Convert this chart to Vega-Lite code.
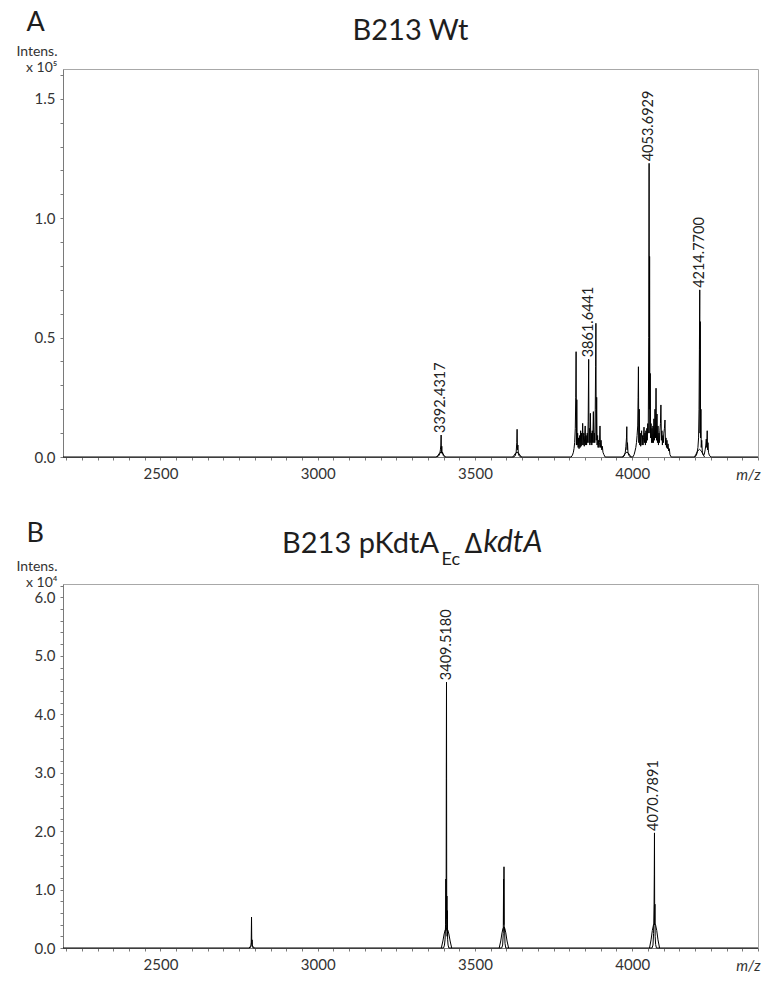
{
  "$schema": "https://vega.github.io/schema/vega-lite/v6.json",
  "background": "white",
  "padding": {"left": 15, "top": 8, "right": 5, "bottom": 5},
  "spacing": 36,
  "config": {
    "font": "Lato",
    "view": {"stroke": "#a8a8a8", "strokeWidth": 1},
    "axis": {"labelFont": "Lato", "labelFontSize": 15, "labelColor": "#333333", "domainColor": "#7a7a7a", "tickColor": "#7a7a7a", "grid": false, "titleFont": "Lato", "titleFontWeight": "normal", "titleColor": "#333333", "titleFontSize": 14, "labelOverlap": false, "labelFlush": false, "labelBound": false},
    "title": {"font": "Lato", "fontWeight": "normal", "color": "#1e1e1e", "fontSize": 29}
  },
  "datasets": {
    "spec": [
      {"p":"A","t":"s","mz":2190,"v":0},{"p":"A","t":"s","mz":3376,"v":0},{"p":"A","t":"s","mz":3384,"v":0.004},{"p":"A","t":"s","mz":3388,"v":0.012},{"p":"A","t":"s","mz":3390,"v":0.03},{"p":"A","t":"s","mz":3391.5,"v":0.05},{"p":"A","t":"s","mz":3392.4,"v":0.092,"label":"3392.4317"},{"p":"A","t":"s","mz":3393.3,"v":0.02},{"p":"A","t":"s","mz":3394.5,"v":0.045},{"p":"A","t":"s","mz":3395.5,"v":0.015},{"p":"A","t":"s","mz":3397,"v":0.02},{"p":"A","t":"s","mz":3399,"v":0.006},{"p":"A","t":"s","mz":3404,"v":0},
      {"p":"A","t":"s","mz":3622,"v":0},{"p":"A","t":"s","mz":3628,"v":0.005},{"p":"A","t":"s","mz":3631,"v":0.02},{"p":"A","t":"s","mz":3633,"v":0.06},{"p":"A","t":"s","mz":3634,"v":0.116},{"p":"A","t":"s","mz":3635,"v":0.03},{"p":"A","t":"s","mz":3636.5,"v":0.05},{"p":"A","t":"s","mz":3638,"v":0.012},{"p":"A","t":"s","mz":3641,"v":0.004},{"p":"A","t":"s","mz":3646,"v":0},
      {"p":"A","t":"s","mz":3806,"v":0},{"p":"A","t":"s","mz":3810,"v":0.008},{"p":"A","t":"s","mz":3813,"v":0.02},{"p":"A","t":"s","mz":3815,"v":0.035},{"p":"A","t":"s","mz":3817,"v":0.06},{"p":"A","t":"s","mz":3819,"v":0.12},{"p":"A","t":"s","mz":3820.5,"v":0.25},{"p":"A","t":"s","mz":3821.6,"v":0.441},{"p":"A","t":"s","mz":3822.6,"v":0.05},{"p":"A","t":"s","mz":3823.8,"v":0.24},{"p":"A","t":"s","mz":3825,"v":0.05},{"p":"A","t":"s","mz":3826.5,"v":0.1},{"p":"A","t":"s","mz":3828,"v":0.04},{"p":"A","t":"s","mz":3829.5,"v":0.08},{"p":"A","t":"s","mz":3831,"v":0.035},{"p":"A","t":"s","mz":3833,"v":0.09},{"p":"A","t":"s","mz":3834.5,"v":0.04},{"p":"A","t":"s","mz":3836,"v":0.11},{"p":"A","t":"s","mz":3837.5,"v":0.045},{"p":"A","t":"s","mz":3839,"v":0.1},{"p":"A","t":"s","mz":3840.5,"v":0.05},{"p":"A","t":"s","mz":3842.5,"v":0.141},{"p":"A","t":"s","mz":3844,"v":0.05},{"p":"A","t":"s","mz":3846,"v":0.1},{"p":"A","t":"s","mz":3847.5,"v":0.045},{"p":"A","t":"s","mz":3849,"v":0.09},{"p":"A","t":"s","mz":3850.5,"v":0.13},{"p":"A","t":"s","mz":3852,"v":0.05},{"p":"A","t":"s","mz":3853.5,"v":0.09},{"p":"A","t":"s","mz":3855,"v":0.05},{"p":"A","t":"s","mz":3857,"v":0.1},{"p":"A","t":"s","mz":3858.5,"v":0.06},{"p":"A","t":"s","mz":3860,"v":0.15},{"p":"A","t":"s","mz":3861.6,"v":0.409,"label":"3861.6441"},{"p":"A","t":"s","mz":3862.6,"v":0.06},{"p":"A","t":"s","mz":3864,"v":0.12},{"p":"A","t":"s","mz":3865.5,"v":0.05},{"p":"A","t":"s","mz":3867,"v":0.183},{"p":"A","t":"s","mz":3868.5,"v":0.06},{"p":"A","t":"s","mz":3870,"v":0.1},{"p":"A","t":"s","mz":3871.5,"v":0.05},{"p":"A","t":"s","mz":3873,"v":0.11},{"p":"A","t":"s","mz":3874.5,"v":0.06},{"p":"A","t":"s","mz":3876.5,"v":0.19},{"p":"A","t":"s","mz":3878,"v":0.06},{"p":"A","t":"s","mz":3879.5,"v":0.1},{"p":"A","t":"s","mz":3881,"v":0.06},{"p":"A","t":"s","mz":3882.5,"v":0.2},{"p":"A","t":"s","mz":3883.6,"v":0.378},{"p":"A","t":"s","mz":3884.6,"v":0.56},{"p":"A","t":"s","mz":3885.6,"v":0.07},{"p":"A","t":"s","mz":3887,"v":0.25},{"p":"A","t":"s","mz":3888.3,"v":0.05},{"p":"A","t":"s","mz":3890,"v":0.09},{"p":"A","t":"s","mz":3891.5,"v":0.04},{"p":"A","t":"s","mz":3893,"v":0.07},{"p":"A","t":"s","mz":3894.5,"v":0.04},{"p":"A","t":"s","mz":3896,"v":0.06},{"p":"A","t":"s","mz":3897.5,"v":0.13},{"p":"A","t":"s","mz":3899,"v":0.04},{"p":"A","t":"s","mz":3901,"v":0.07},{"p":"A","t":"s","mz":3903,"v":0.03},{"p":"A","t":"s","mz":3905,"v":0.045},{"p":"A","t":"s","mz":3907,"v":0.02},{"p":"A","t":"s","mz":3910,"v":0.01},{"p":"A","t":"s","mz":3914,"v":0},
      {"p":"A","t":"s","mz":3970,"v":0},{"p":"A","t":"s","mz":3975,"v":0.005},{"p":"A","t":"s","mz":3978,"v":0.02},{"p":"A","t":"s","mz":3980,"v":0.045},{"p":"A","t":"s","mz":3981.8,"v":0.08},{"p":"A","t":"s","mz":3982.8,"v":0.127},{"p":"A","t":"s","mz":3983.8,"v":0.03},{"p":"A","t":"s","mz":3985,"v":0.06},{"p":"A","t":"s","mz":3986.5,"v":0.02},{"p":"A","t":"s","mz":3989,"v":0.008},{"p":"A","t":"s","mz":3994,"v":0},
      {"p":"A","t":"s","mz":4002,"v":0},{"p":"A","t":"s","mz":4006,"v":0.01},{"p":"A","t":"s","mz":4009,"v":0.025},{"p":"A","t":"s","mz":4011.5,"v":0.04},{"p":"A","t":"s","mz":4013.5,"v":0.06},{"p":"A","t":"s","mz":4015.5,"v":0.09},{"p":"A","t":"s","mz":4017.5,"v":0.13},{"p":"A","t":"s","mz":4018.8,"v":0.25},{"p":"A","t":"s","mz":4019.8,"v":0.378},{"p":"A","t":"s","mz":4021,"v":0.06},{"p":"A","t":"s","mz":4022.5,"v":0.2},{"p":"A","t":"s","mz":4024,"v":0.05},{"p":"A","t":"s","mz":4025.5,"v":0.1},{"p":"A","t":"s","mz":4027,"v":0.045},{"p":"A","t":"s","mz":4028.5,"v":0.08},{"p":"A","t":"s","mz":4030,"v":0.11},{"p":"A","t":"s","mz":4031.5,"v":0.05},{"p":"A","t":"s","mz":4033,"v":0.09},{"p":"A","t":"s","mz":4034.5,"v":0.05},{"p":"A","t":"s","mz":4036,"v":0.08},{"p":"A","t":"s","mz":4037.5,"v":0.125},{"p":"A","t":"s","mz":4039,"v":0.06},{"p":"A","t":"s","mz":4040.5,"v":0.1},{"p":"A","t":"s","mz":4042,"v":0.05},{"p":"A","t":"s","mz":4043.5,"v":0.11},{"p":"A","t":"s","mz":4045,"v":0.06},{"p":"A","t":"s","mz":4046.5,"v":0.12},{"p":"A","t":"s","mz":4048,"v":0.07},{"p":"A","t":"s","mz":4049.5,"v":0.14},{"p":"A","t":"s","mz":4051,"v":0.1},{"p":"A","t":"s","mz":4052.6,"v":0.5},{"p":"A","t":"s","mz":4053.7,"v":1.23,"label":"4053.6929"},{"p":"A","t":"s","mz":4054.5,"v":0.2},{"p":"A","t":"s","mz":4055.3,"v":0.84},{"p":"A","t":"s","mz":4056.2,"v":0.1},{"p":"A","t":"s","mz":4057.3,"v":0.35},{"p":"A","t":"s","mz":4058.5,"v":0.08},{"p":"A","t":"s","mz":4060,"v":0.14},{"p":"A","t":"s","mz":4061.5,"v":0.06},{"p":"A","t":"s","mz":4063,"v":0.12},{"p":"A","t":"s","mz":4064.5,"v":0.06},{"p":"A","t":"s","mz":4066,"v":0.13},{"p":"A","t":"s","mz":4067.5,"v":0.06},{"p":"A","t":"s","mz":4069,"v":0.16},{"p":"A","t":"s","mz":4070.5,"v":0.07},{"p":"A","t":"s","mz":4072.5,"v":0.2},{"p":"A","t":"s","mz":4074,"v":0.08},{"p":"A","t":"s","mz":4075.8,"v":0.288},{"p":"A","t":"s","mz":4077.2,"v":0.07},{"p":"A","t":"s","mz":4078.8,"v":0.18},{"p":"A","t":"s","mz":4080.3,"v":0.06},{"p":"A","t":"s","mz":4082,"v":0.13},{"p":"A","t":"s","mz":4083.5,"v":0.05},{"p":"A","t":"s","mz":4085,"v":0.1},{"p":"A","t":"s","mz":4086.5,"v":0.06},{"p":"A","t":"s","mz":4088,"v":0.11},{"p":"A","t":"s","mz":4089.8,"v":0.14},{"p":"A","t":"s","mz":4091.3,"v":0.218},{"p":"A","t":"s","mz":4092.8,"v":0.07},{"p":"A","t":"s","mz":4094.5,"v":0.11},{"p":"A","t":"s","mz":4096,"v":0.05},{"p":"A","t":"s","mz":4097.5,"v":0.09},{"p":"A","t":"s","mz":4099,"v":0.06},{"p":"A","t":"s","mz":4100.5,"v":0.1},{"p":"A","t":"s","mz":4102.5,"v":0.12},{"p":"A","t":"s","mz":4104.2,"v":0.155},{"p":"A","t":"s","mz":4105.8,"v":0.05},{"p":"A","t":"s","mz":4107.5,"v":0.08},{"p":"A","t":"s","mz":4109,"v":0.04},{"p":"A","t":"s","mz":4110.5,"v":0.07},{"p":"A","t":"s","mz":4112,"v":0.035},{"p":"A","t":"s","mz":4114,"v":0.055},{"p":"A","t":"s","mz":4116,"v":0.025},{"p":"A","t":"s","mz":4118,"v":0.035},{"p":"A","t":"s","mz":4120,"v":0.01},{"p":"A","t":"s","mz":4124,"v":0},
      {"p":"A","t":"s","mz":4198,"v":0},{"p":"A","t":"s","mz":4203,"v":0.005},{"p":"A","t":"s","mz":4206,"v":0.015},{"p":"A","t":"s","mz":4209,"v":0.04},{"p":"A","t":"s","mz":4211,"v":0.08},{"p":"A","t":"s","mz":4212.5,"v":0.2},{"p":"A","t":"s","mz":4213.7,"v":0.45},{"p":"A","t":"s","mz":4214.8,"v":0.7,"label":"4214.7700"},{"p":"A","t":"s","mz":4215.6,"v":0.1},{"p":"A","t":"s","mz":4216.4,"v":0.567},{"p":"A","t":"s","mz":4217.4,"v":0.08},{"p":"A","t":"s","mz":4218.5,"v":0.2},{"p":"A","t":"s","mz":4219.5,"v":0.04},{"p":"A","t":"s","mz":4221,"v":0.07},{"p":"A","t":"s","mz":4223,"v":0.02},{"p":"A","t":"s","mz":4226,"v":0.008},{"p":"A","t":"s","mz":4229,"v":0.01},{"p":"A","t":"s","mz":4232,"v":0.03},{"p":"A","t":"s","mz":4234,"v":0.05},{"p":"A","t":"s","mz":4235.5,"v":0.075},{"p":"A","t":"s","mz":4237,"v":0.04},{"p":"A","t":"s","mz":4238.5,"v":0.11},{"p":"A","t":"s","mz":4239.5,"v":0.03},{"p":"A","t":"s","mz":4241,"v":0.06},{"p":"A","t":"s","mz":4242.5,"v":0.02},{"p":"A","t":"s","mz":4245,"v":0.008},{"p":"A","t":"s","mz":4250,"v":0},{"p":"A","t":"s","mz":4400,"v":0},
      {"p":"A","t":"e1","mz":3378,"v":0},{"p":"A","t":"e1","mz":3383,"v":0.008},{"p":"A","t":"e1","mz":3387,"v":0.016},{"p":"A","t":"e1","mz":3392,"v":0.02},{"p":"A","t":"e1","mz":3397,"v":0.016},{"p":"A","t":"e1","mz":3401,"v":0.008},{"p":"A","t":"e1","mz":3406,"v":0},
      {"p":"A","t":"e2","mz":3620,"v":0},{"p":"A","t":"e2","mz":3625,"v":0.008},{"p":"A","t":"e2","mz":3629,"v":0.016},{"p":"A","t":"e2","mz":3634,"v":0.02},{"p":"A","t":"e2","mz":3639,"v":0.016},{"p":"A","t":"e2","mz":3643,"v":0.008},{"p":"A","t":"e2","mz":3648,"v":0},
      {"p":"A","t":"e3","mz":3969,"v":0},{"p":"A","t":"e3","mz":3974,"v":0.008},{"p":"A","t":"e3","mz":3978,"v":0.016},{"p":"A","t":"e3","mz":3983,"v":0.02},{"p":"A","t":"e3","mz":3988,"v":0.016},{"p":"A","t":"e3","mz":3992,"v":0.008},{"p":"A","t":"e3","mz":3997,"v":0},
      {"p":"A","t":"e4","mz":4198,"v":0},{"p":"A","t":"e4","mz":4203,"v":0.012},{"p":"A","t":"e4","mz":4208,"v":0.025},{"p":"A","t":"e4","mz":4214,"v":0.032},{"p":"A","t":"e4","mz":4220,"v":0.025},{"p":"A","t":"e4","mz":4225,"v":0.012},{"p":"A","t":"e4","mz":4230,"v":0},
      {"p":"B","t":"s","mz":2190,"v":0},{"p":"B","t":"s","mz":2784,"v":0},{"p":"B","t":"s","mz":2787,"v":0.02},{"p":"B","t":"s","mz":2788.5,"v":0.1},{"p":"B","t":"s","mz":2789.5,"v":0.53},{"p":"B","t":"s","mz":2790.3,"v":0.06},{"p":"B","t":"s","mz":2791.2,"v":0.14},{"p":"B","t":"s","mz":2792.5,"v":0.02},{"p":"B","t":"s","mz":2795,"v":0},
      {"p":"B","t":"s","mz":3400,"v":0},{"p":"B","t":"s","mz":3403,"v":0.05},{"p":"B","t":"s","mz":3405,"v":0.15},{"p":"B","t":"s","mz":3406.5,"v":0.4},{"p":"B","t":"s","mz":3407.5,"v":1.18},{"p":"B","t":"s","mz":3408.2,"v":0.3},{"p":"B","t":"s","mz":3408.8,"v":2.9},{"p":"B","t":"s","mz":3409.5,"v":4.55,"label":"3409.5180"},{"p":"B","t":"s","mz":3410.2,"v":0.5},{"p":"B","t":"s","mz":3410.8,"v":0.89},{"p":"B","t":"s","mz":3411.5,"v":0.2},{"p":"B","t":"s","mz":3412.2,"v":0.64},{"p":"B","t":"s","mz":3413,"v":0.15},{"p":"B","t":"s","mz":3414.5,"v":0.05},{"p":"B","t":"s","mz":3417,"v":0},
      {"p":"B","t":"s","mz":3585,"v":0},{"p":"B","t":"s","mz":3588,"v":0.05},{"p":"B","t":"s","mz":3590,"v":0.25},{"p":"B","t":"s","mz":3591,"v":1.18},{"p":"B","t":"s","mz":3591.6,"v":0.4},{"p":"B","t":"s","mz":3592.3,"v":1.39},{"p":"B","t":"s","mz":3593,"v":0.3},{"p":"B","t":"s","mz":3594,"v":0.35},{"p":"B","t":"s","mz":3595.5,"v":0.08},{"p":"B","t":"s","mz":3598,"v":0},
      {"p":"B","t":"s","mz":4063,"v":0},{"p":"B","t":"s","mz":4066,"v":0.05},{"p":"B","t":"s","mz":4068,"v":0.25},{"p":"B","t":"s","mz":4069.5,"v":0.75},{"p":"B","t":"s","mz":4070.2,"v":1.26},{"p":"B","t":"s","mz":4070.8,"v":1.97,"label":"4070.7891"},{"p":"B","t":"s","mz":4071.5,"v":0.4},{"p":"B","t":"s","mz":4072.2,"v":0.75},{"p":"B","t":"s","mz":4073,"v":0.2},{"p":"B","t":"s","mz":4074.5,"v":0.06},{"p":"B","t":"s","mz":4077,"v":0},{"p":"B","t":"s","mz":4400,"v":0},
      {"p":"B","t":"e1","mz":2782,"v":0},{"p":"B","t":"e1","mz":2786,"v":0.03},{"p":"B","t":"e1","mz":2790,"v":0.05},{"p":"B","t":"e1","mz":2794,"v":0.03},{"p":"B","t":"e1","mz":2798,"v":0},
      {"p":"B","t":"e2","mz":3393,"v":0},{"p":"B","t":"e2","mz":3398,"v":0.12},{"p":"B","t":"e2","mz":3402,"v":0.24},{"p":"B","t":"e2","mz":3405.5,"v":0.31},{"p":"B","t":"e2","mz":3409.5,"v":0.34},{"p":"B","t":"e2","mz":3413.5,"v":0.31},{"p":"B","t":"e2","mz":3417,"v":0.24},{"p":"B","t":"e2","mz":3421,"v":0.12},{"p":"B","t":"e2","mz":3426,"v":0},
      {"p":"B","t":"e3","mz":3577,"v":0},{"p":"B","t":"e3","mz":3582,"v":0.12},{"p":"B","t":"e3","mz":3586,"v":0.26},{"p":"B","t":"e3","mz":3589,"v":0.33},{"p":"B","t":"e3","mz":3592,"v":0.36},{"p":"B","t":"e3","mz":3595,"v":0.33},{"p":"B","t":"e3","mz":3598,"v":0.26},{"p":"B","t":"e3","mz":3602,"v":0.12},{"p":"B","t":"e3","mz":3607,"v":0},
      {"p":"B","t":"e4","mz":4055,"v":0},{"p":"B","t":"e4","mz":4060,"v":0.14},{"p":"B","t":"e4","mz":4064,"v":0.3},{"p":"B","t":"e4","mz":4067.5,"v":0.39},{"p":"B","t":"e4","mz":4071,"v":0.42},{"p":"B","t":"e4","mz":4074.5,"v":0.39},{"p":"B","t":"e4","mz":4078,"v":0.3},{"p":"B","t":"e4","mz":4082,"v":0.14},{"p":"B","t":"e4","mz":4087,"v":0}
    ]
  },
  "vconcat": [
    {
      "title": {"text": "A", "anchor": "start", "fontSize": 27, "dx": 11, "dy": 20, "offset": 0},
      "vconcat": [
        {
          "title": {"text": "B213 Wt", "anchor": "middle", "frame": "group", "offset": -2},
          "width": 695,
          "height": 388,
          "data": {"name": "spec"},
          "transform": [{"filter": "datum.p === 'A'"}],
          "encoding": {
            "x": {"field": "mz", "type": "quantitative", "scale": {"domain": [2190, 4400], "nice": false, "zero": false},
              "axis": {"values": [2200,2250,2300,2350,2400,2450,2500,2550,2600,2650,2700,2750,2800,2850,2900,2950,3000,3050,3100,3150,3200,3250,3300,3350,3400,3450,3500,3550,3600,3650,3700,3750,3800,3850,3900,3950,4000,4050,4100,4150,4200,4250,4300,4350,4400],
                "labelExpr": "datum.value % 500 === 0 ? format(datum.value, 'd') : ''",
                "tickSize": 3, "labelPadding": 6, "title": "m/z", "titleFontStyle": "italic", "titleFontSize": 15, "titleAnchor": "end", "titleAlign": "right", "titleX": 697, "titleY": 22, "titleBaseline": "alphabetic"}},
            "y": {"field": "v", "type": "quantitative", "scale": {"domain": [0, 1.625], "nice": false},
              "axis": {"values": [0,0.1,0.2,0.3,0.4,0.5,0.6,0.7,0.8,0.9,1.0,1.1,1.2,1.3,1.4,1.5,1.6],
                "labelExpr": "abs(datum.value*2 - round(datum.value*2)) < 0.001 ? format(datum.value, '.1f') : ''",
                "tickSize": 3, "labelPadding": 5, "title": ["Intens.", "x 10⁵"], "titleAngle": 0, "titleAlign": "right", "titleBaseline": "bottom", "titleX": -6, "titleY": -11, "titleLineHeight": 16}}
          },
          "layer": [
            {"mark": {"type": "line", "color": "black", "strokeWidth": 1}, "encoding": {"detail": {"field": "t"}}},
            {"transform": [{"filter": "isValid(datum.label)"}], "mark": {"type": "text", "angle": 270, "align": "left", "baseline": "middle", "dx": 2, "font": "Lato", "fontSize": 14.5, "color": "#222222"}, "encoding": {"text": {"field": "label"}}}
          ]
        }
      ]
    },
    {
      "title": {"text": "B", "anchor": "start", "fontSize": 27, "dx": 11, "dy": 20, "offset": 0},
      "vconcat": [
        {
          "title": {"text": "kdtA", "anchor": "start", "fontStyle": "italic", "fontSize": 30, "dx": 468, "dy": 28, "offset": 0},
          "vconcat": [
            {
              "title": {"text": "Δ", "anchor": "start", "font": "DejaVu Sans", "fontSize": 26, "dx": 449, "dy": 28, "offset": 0},
              "vconcat": [
                {
                  "title": {"text": "Ec", "anchor": "start", "fontSize": 18, "dx": 426, "dy": 39, "offset": 0},
                  "vconcat": [
                    {
                      "title": {"text": "B213 pKdtA", "anchor": "start", "frame": "group", "dx": 219, "offset": 0},
                      "width": 695,
                      "height": 364,
                      "data": {"name": "spec"},
                      "transform": [{"filter": "datum.p === 'B'"}],
                      "encoding": {
                        "x": {"field": "mz", "type": "quantitative", "scale": {"domain": [2190, 4400], "nice": false, "zero": false},
                          "axis": {"values": [2200,2250,2300,2350,2400,2450,2500,2550,2600,2650,2700,2750,2800,2850,2900,2950,3000,3050,3100,3150,3200,3250,3300,3350,3400,3450,3500,3550,3600,3650,3700,3750,3800,3850,3900,3950,4000,4050,4100,4150,4200,4250,4300,4350,4400],
                            "labelExpr": "datum.value % 500 === 0 ? format(datum.value, 'd') : ''",
                            "tickSize": 3, "labelPadding": 6, "title": "m/z", "titleFontStyle": "italic", "titleFontSize": 15, "titleAnchor": "end", "titleAlign": "right", "titleX": 697, "titleY": 22, "titleBaseline": "alphabetic"}},
                        "y": {"field": "v", "type": "quantitative", "scale": {"domain": [0, 6.23], "nice": false},
                          "axis": {"values": [0,0.2,0.4,0.6,0.8,1.0,1.2,1.4,1.6,1.8,2.0,2.2,2.4,2.6,2.8,3.0,3.2,3.4,3.6,3.8,4.0,4.2,4.4,4.6,4.8,5.0,5.2,5.4,5.6,5.8,6.0,6.2],
                            "labelExpr": "abs(datum.value - round(datum.value)) < 0.001 ? format(datum.value, '.1f') : ''",
                            "tickSize": 3, "labelPadding": 5, "title": ["Intens.", "x 10⁴"], "titleAngle": 0, "titleAlign": "right", "titleBaseline": "bottom", "titleX": -6, "titleY": -11, "titleLineHeight": 16}}
                      },
                      "layer": [
                        {"mark": {"type": "line", "color": "black", "strokeWidth": 1}, "encoding": {"detail": {"field": "t"}}},
                        {"transform": [{"filter": "isValid(datum.label)"}], "mark": {"type": "text", "angle": 270, "align": "left", "baseline": "middle", "dx": 2, "font": "Lato", "fontSize": 14.5, "color": "#222222"}, "encoding": {"text": {"field": "label"}}}
                      ]
                    }
                  ]
                }
              ]
            }
          ]
        }
      ]
    }
  ]
}
